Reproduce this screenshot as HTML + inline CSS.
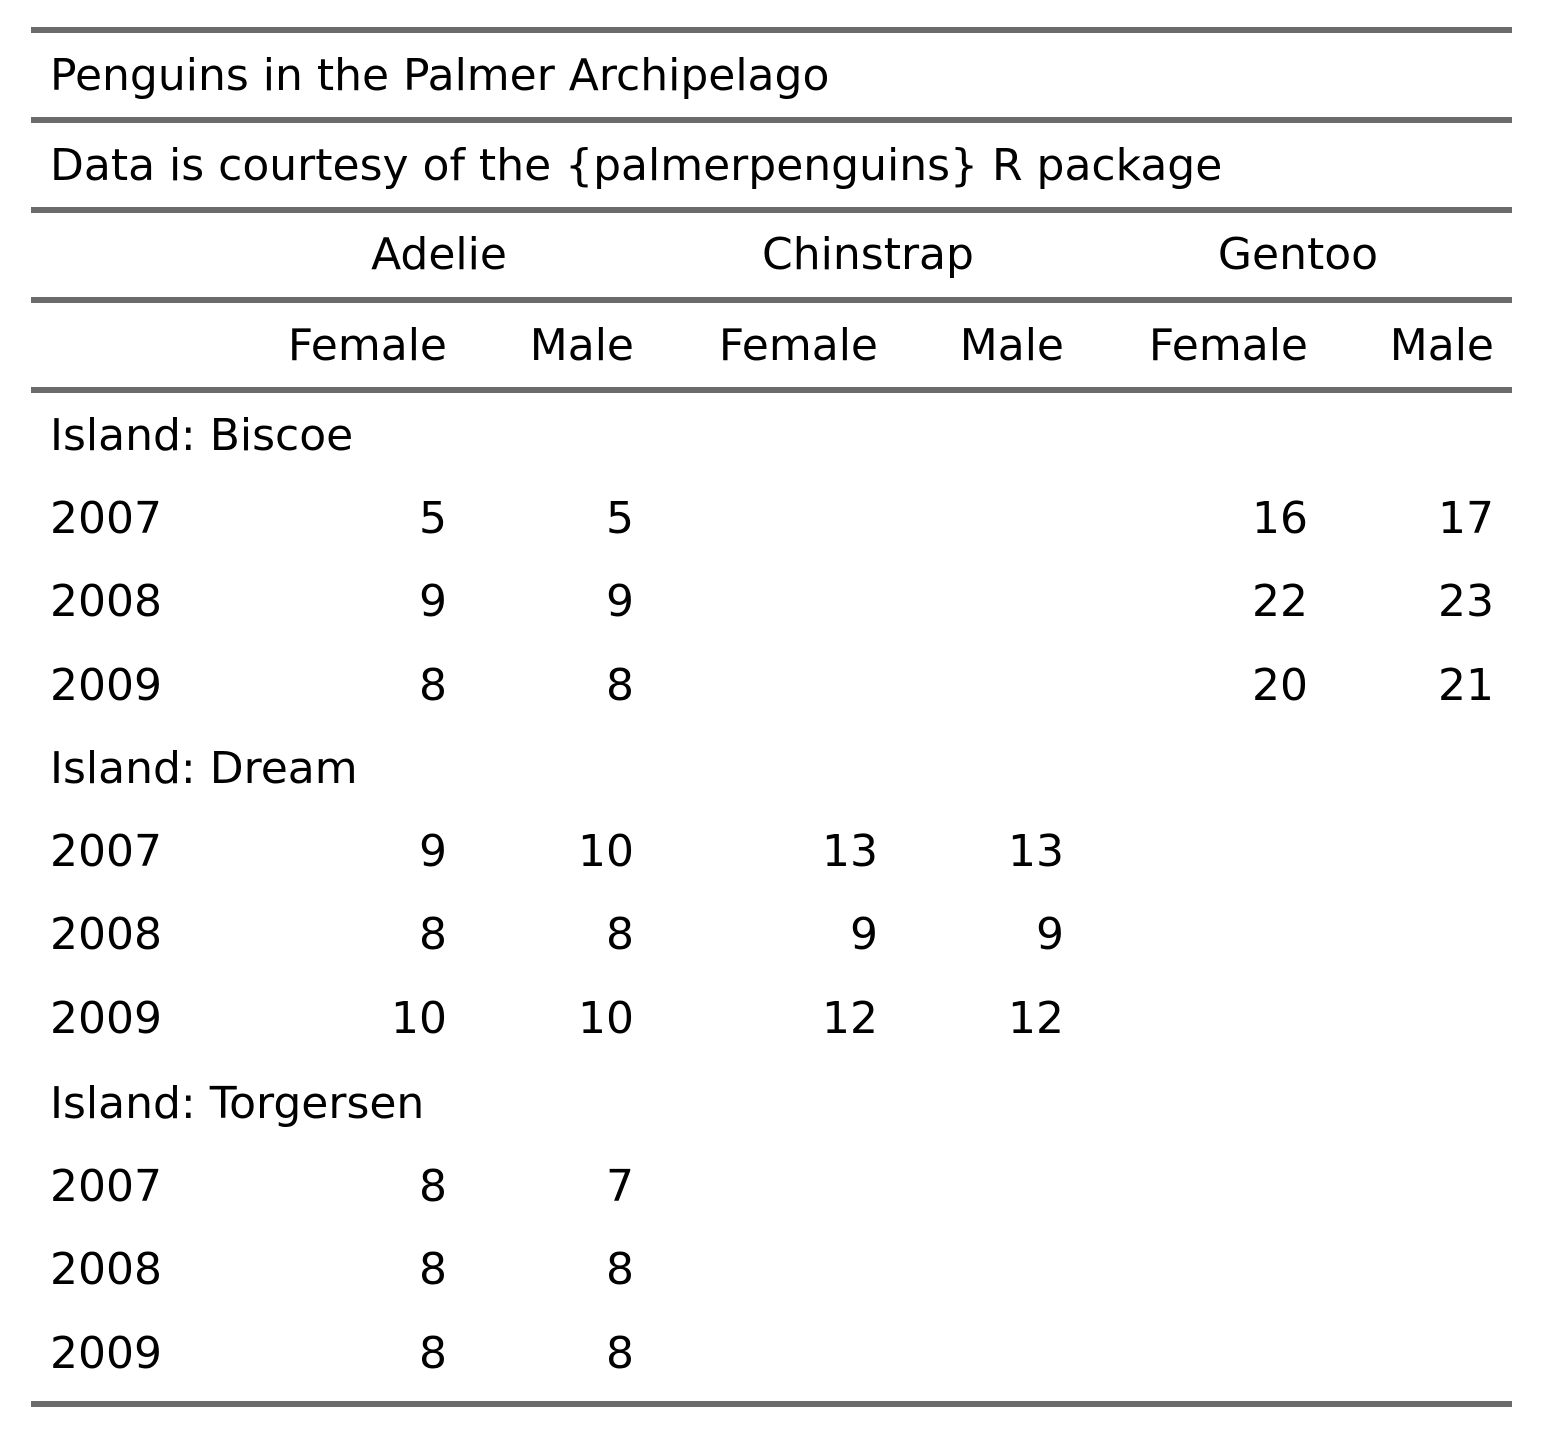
<!DOCTYPE html>
<html><head><meta charset="utf-8">
<style>
html,body{margin:0;padding:0;background:#fff;}
#root{position:relative;width:1542px;height:1431px;overflow:hidden;font-family:"DejaVu Sans","Liberation Sans",sans-serif;font-size:44px;color:#000;}
.rule{position:absolute;left:31px;width:1481px;height:6px;background:#6b6b6b;}
.t{position:absolute;height:60px;line-height:60px;white-space:nowrap;}
</style></head>
<body>
<div id="root"></div>
<script>
const spanners = ["Adelie","Chinstrap","Gentoo"];
const sexes = ["Female","Male","Female","Male","Female","Male"];
const islands = ["Island: Biscoe","Island: Dream","Island: Torgersen"];
const years = ["2007","2008","2009"];
const biscoe = [["5","5","","","16","17"],["9","9","","","22","23"],["8","8","","","20","21"]];
const dream = [["9","10","13","13","",""],["8","8","9","9","",""],["10","10","12","12","",""]];
const torgersen = [["8","7","","","",""],["8","8","","","",""],["8","8","","","",""]];
const groups = [biscoe, dream, torgersen];

const root = document.getElementById('root');
const colRight = [447,634,878,1064,1308,1494];
const spanCenter = [439,868,1298];
function txt(s, y, name, opts){
  const d = document.createElement('div');
  d.className = 't';
  d.textContent = s;
  d.style.top = (y-30)+'px';
  if (opts.right!==undefined){ d.style.right=(1542-opts.right)+'px'; }
  else if (opts.center!==undefined){ d.style.left=(opts.center-300)+'px'; d.style.width='600px'; d.style.textAlign='center'; }
  else d.style.left=opts.left+'px';
  
  
  root.appendChild(d);
}
function rule(y, name){
  const r = document.createElement('div');
  r.className='rule';
  r.style.top=(y-3)+'px';
  
  
  root.appendChild(r);
}
[30,120,210,300,390].forEach((y,i)=>rule(y,'rule-'+i));
rule(1404,'bottom-rule');
txt("Penguins in the Palmer Archipelago",76,'table-title',{left:50});
txt("Data is courtesy of the {palmerpenguins} R package",166,'table-subtitle',{left:50});
spanners.forEach((s,i)=>txt(s,255,'spanner-'+s.toLowerCase(),{center:spanCenter[i]}));
sexes.forEach((s,i)=>txt(s,346,'column-label-'+s.toLowerCase(),{right:colRight[i]}));
const groupY=[436,769,1104];
groups.forEach((g,gi)=>{
  txt(islands[gi],groupY[gi],'group-label',{left:50});
  g.forEach((row,ri)=>{
    const y = groupY[gi]+82.5+ri*83.8;
    txt(years[ri],y,'row-year',{left:50});
    row.forEach((v,ci)=>{ if(v!=="") txt(v,y,'cell-value',{right:colRight[ci]}); });
  });
});
</script>
</body></html>
